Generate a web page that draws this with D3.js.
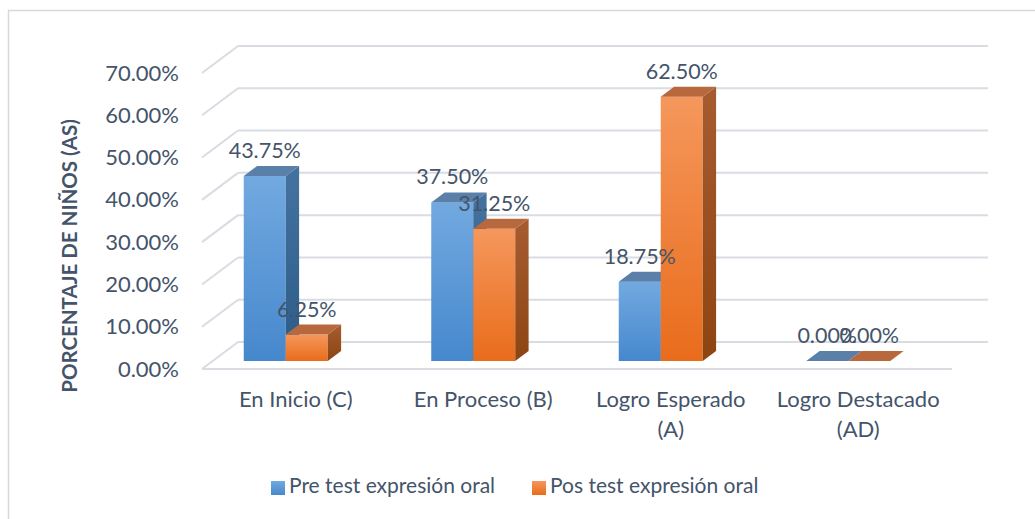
<!DOCTYPE html>
<html>
<head>
<meta charset="utf-8">
<script src="https://cdn.jsdelivr.net/npm/d3@7"></script>
<style>
  html, body { margin: 0; padding: 0; background: #ffffff; }
  svg { display: block; }
  text { font-family: Lato, "Open Sans", sans-serif; fill: #44546a; }
</style>
</head>
<body>
<svg id="chart" width="1035" height="519"></svg>
<script>
// ---- data ----
const categories = ["En Inicio (C)", "En Proceso (B)", "Logro Esperado (A)", "Logro Destacado (AD)"];
const categoryLines = [["En Inicio (C)"], ["En Proceso (B)"], ["Logro Esperado", "(A)"], ["Logro Destacado", "(AD)"]];
const seriesNames = ["Pre test expresión oral", "Pos test expresión oral"];
const preTest = [43.75, 37.50, 18.75, 0.00];
const posTest = [6.25, 31.25, 62.50, 0.00];
const yTicks = [0, 10, 20, 30, 40, 50, 60, 70];
const yTitle = "PORCENTAJE DE NIÑOS (AS)";

// ---- styles ----
const palette = [
  { front: ["#72a9e0", "#4688cd"], side: ["#44739f", "#2d5b88"], top: "#5a80aa" },
  { front: ["#f5975c", "#e96c1b"], side: ["#a65c30", "#8c4512"], top: "#b7683c" }
];

const svg = d3.select("#chart");
const W = 1035, H = 519;

// chart border
svg.append("rect").attr("x", 8.5).attr("y", 10.5).attr("width", W + 20).attr("height", H + 20)
  .attr("fill", "none").attr("stroke", "#d9d9d9").attr("stroke-width", 1.5);

// ---- scales ----
const floorLeft = 202, floorRight = 952;
const depthDX = 36, depthDY = -27;           // full depth offset of the back wall
const y = d3.scaleLinear().domain([0, 70]).range([369, 73]);
const xFloor = d3.scaleBand().domain(categories).range([floorLeft, floorRight]);
const xBar = d3.scaleBand().domain(categories).range([192, 942]);
const groupWidth = 84;
const xSub = d3.scaleBand().domain(seriesNames).range([0, groupWidth]);
const barFront = 0.296, barBack = 0.667;     // bar depth position as fraction of floor depth

// ---- gradients ----
const defs = svg.append("defs");
palette.forEach((p, i) => {
  ["front", "side"].forEach(face => {
    const g = defs.append("linearGradient").attr("id", `g${i}${face}`)
      .attr("x1", 0).attr("y1", 0).attr("x2", 0).attr("y2", 1);
    g.append("stop").attr("offset", "0%").attr("stop-color", p[face][0]);
    g.append("stop").attr("offset", "100%").attr("stop-color", p[face][1]);
  });
});

// ---- walls / gridlines ----
const grid = svg.append("g").attr("stroke", "#d9dce3").attr("stroke-width", 2).attr("fill", "none");
yTicks.forEach(t => {
  grid.append("line").attr("x1", floorLeft + depthDX).attr("x2", floorRight + depthDX)
    .attr("y1", y(t) + depthDY).attr("y2", y(t) + depthDY);
  grid.append("line").attr("x1", floorLeft).attr("x2", floorLeft + depthDX)
    .attr("y1", y(t)).attr("y2", y(t) + depthDY);
});
grid.append("line").attr("x1", floorLeft).attr("x2", floorRight).attr("y1", y(0)).attr("y2", y(0));

// ---- tick labels ----
svg.append("g").selectAll("text").data(yTicks).join("text")
  .attr("x", 179).attr("y", d => y(d) + 2)
  .attr("text-anchor", "end").attr("dominant-baseline", "middle")
  .attr("font-size", 22).text(d => d.toFixed(2) + "%");

// y title
svg.append("text").attr("transform", "translate(77,256) rotate(-90)")
  .attr("text-anchor", "middle").attr("font-size", 20.5).attr("font-weight", "bold")
  .text(yTitle);

// ---- bars ----
const fdx = depthDX * barFront, fdy = depthDY * barFront;
const bdx = depthDX * (barBack - barFront), bdy = depthDY * (barBack - barFront);
const series = [preTest, posTest];
const bars = svg.append("g");
const labels = [];
categories.forEach((c, ci) => {
  series.forEach((vals, si) => {
    const v = vals[ci];
    const x0 = xBar(c) + (xBar.bandwidth() - groupWidth) / 2 + xSub(seriesNames[si]);
    const x1 = x0 + xSub.bandwidth();
    const yb = y(0) + fdy, yt = y(v) + fdy;
    const p = palette[si];
    if (v > 0) {
      bars.append("rect").attr("x", x0).attr("y", yt).attr("width", x1 - x0).attr("height", yb - yt)
        .attr("fill", `url(#g${si}front)`);
      bars.append("path")
        .attr("d", `M${x1},${yt}L${x1 + bdx},${yt + bdy}L${x1 + bdx},${yb + bdy}L${x1},${yb}Z`)
        .attr("fill", `url(#g${si}side)`);
    }
    bars.append("path")
      .attr("d", `M${x0},${yt}L${x1},${yt}L${x1 + bdx},${yt + bdy}L${x0 + bdx},${yt + bdy}Z`)
      .attr("fill", p.top);
    labels.push({ x: (x0 + x1) / 2, y: yt - 18, v });
  });
});

svg.append("g").selectAll("text").data(labels).join("text")
  .attr("x", d => d.x).attr("y", d => d.y)
  .attr("text-anchor", "middle").attr("font-size", 21.5)
  .text(d => d.v.toFixed(2) + "%");

// ---- category labels ----
const catG = svg.append("g");
categories.forEach((c, i) => {
  categoryLines[i].forEach((line, li) => {
    catG.append("text").attr("x", xFloor(c) + xFloor.bandwidth() / 2).attr("y", 407 + li * 30)
      .attr("text-anchor", "middle").attr("font-size", 22).text(line);
  });
});

// ---- legend ----
const legendX = [271, 532];
const lg = svg.append("g");
seriesNames.forEach((s, i) => {
  lg.append("rect").attr("x", legendX[i]).attr("y", 481).attr("width", 14).attr("height", 14)
    .attr("fill", `url(#g${i}front)`);
  lg.append("text").attr("x", legendX[i] + 18).attr("y", 488).attr("dominant-baseline", "middle")
    .attr("font-size", 21).text(s);
});
</script>
</body>
</html>
